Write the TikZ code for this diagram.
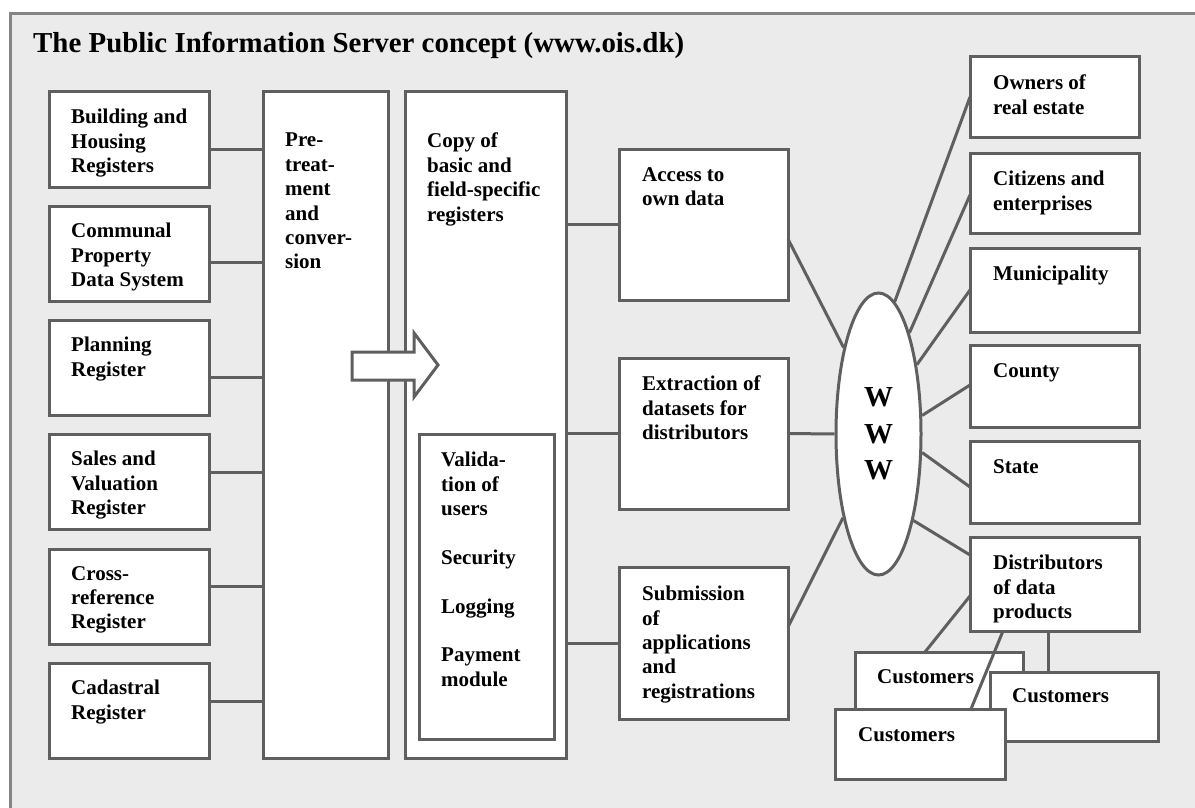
\documentclass[tikz,border=0pt]{standalone}
\usepackage{fontspec}
\setmainfont{Liberation Serif}
\usetikzlibrary{shapes.geometric}
\definecolor{edgegray}{HTML}{5F5F5F}
\definecolor{framegray}{HTML}{858585}
\definecolor{bggray}{HTML}{EBEBEB}
\begin{document}
\begin{tikzpicture}[x=1pt,y=-1pt,
  box/.style={draw=edgegray, line width=3pt, fill=white, rectangle, inner sep=0pt, outer sep=0pt, anchor=north west},
  lbl/.style={anchor=north west, inner sep=0pt, align=left, font=\bfseries\fontsize{21}{24.4}\selectfont},
  conn/.style={draw=edgegray, line width=3pt}]
\useasboundingbox (0,0) rectangle (1195,808);
\clip (0,0) rectangle (1195,808);
\fill[white] (0,0) rectangle (1195,808);
\draw[draw=framegray, fill=bggray, line width=3pt] (10,14) rectangle (1230,840);

% title
\node[anchor=base west, inner sep=0pt, font=\bfseries\fontsize{28.9}{34}\selectfont] (title) at (33,53) {The Public Information Server concept (www.ois.dk)};

% left register boxes
\node[box, minimum width=160pt, minimum height=95pt] (b1) at (49,92) {};
\node[box, minimum width=160pt, minimum height=95pt] (b2) at (49,206) {};
\node[box, minimum width=160pt, minimum height=95pt] (b3) at (49,320) {};
\node[box, minimum width=160pt, minimum height=95pt] (b4) at (49,434) {};
\node[box, minimum width=160pt, minimum height=95pt] (b5) at (49,549) {};
\node[box, minimum width=160pt, minimum height=95pt] (b6) at (49,663) {};
\node[lbl] (t1) at ([xshift=22pt,yshift=-17pt]b1.north west) {Building and\\Housing\\Registers};
\node[lbl] (t2) at ([xshift=22pt,yshift=-17pt]b2.north west) {Communal\\Property\\Data System};
\node[lbl] (t3) at ([xshift=22pt,yshift=-17pt]b3.north west) {Planning\\Register};
\node[lbl] (t4) at ([xshift=22pt,yshift=-17pt]b4.north west) {Sales and\\Valuation\\Register};
\node[lbl] (t5) at ([xshift=22pt,yshift=-17pt]b5.north west) {Cross-\\reference\\Register};
\node[lbl] (t6) at ([xshift=22pt,yshift=-17pt]b6.north west) {Cadastral\\Register};

% pre-treatment and copy columns
\node[box, minimum width=125pt, minimum height=666pt] (pre) at (263,92) {};
\node[lbl] (tpre) at ([xshift=22pt,yshift=-41pt]pre.north west) {Pre-\\treat-\\ment\\and\\conver-\\sion};
\node[box, minimum width=161pt, minimum height=666pt] (copy) at (405,92) {};
\node[lbl] (tcopy) at ([xshift=22pt,yshift=-41pt]copy.north west) {Copy of\\basic and\\field-specific\\registers};
\node[box, minimum width=135pt, minimum height=305pt] (inner) at (419,434) {};
\node[lbl] (tinner) at ([xshift=22pt,yshift=-18pt]inner.north west) {Valida-\\tion of\\users\\[24.4pt]Security\\[24.4pt]Logging\\[24.4pt]Payment\\module};

% middle boxes
\node[box, minimum width=169pt, minimum height=151pt] (acc) at (619,149) {};
\node[lbl] (tacc) at ([xshift=23pt,yshift=-18pt]acc.north west) {Access to\\own data};
\node[box, minimum width=169pt, minimum height=151pt] (ext) at (619,358) {};
\node[lbl] (text) at ([xshift=23pt,yshift=-18pt]ext.north west) {Extraction of\\datasets for\\distributors};
\node[box, minimum width=169pt, minimum height=152pt] (sub) at (619,567) {};
\node[lbl] (tsub) at ([xshift=23pt,yshift=-19pt]sub.north west) {Submission\\of\\applications\\and\\registrations};

% WWW ellipse
\node[ellipse, draw=edgegray, line width=3pt, fill=white, minimum width=85pt, minimum height=282pt, inner sep=0pt, align=center, font=\bfseries\fontsize{29}{36.5}\selectfont] (www) at (878.5,434) {W\\W\\W};

% right boxes
\node[box, minimum width=169pt, minimum height=80pt] (own) at (970,57) {};
\node[lbl] (town) at ([xshift=23pt,yshift=-18pt]own.north west) {Owners of\\real estate};
\node[box, minimum width=169pt, minimum height=80pt] (cit) at (970,153) {};
\node[lbl] (tcit) at ([xshift=23pt,yshift=-18pt]cit.north west) {Citizens and\\enterprises};
\node[box, minimum width=169pt, minimum height=84pt] (mun) at (970,248) {};
\node[lbl] (tmun) at ([xshift=23pt,yshift=-18pt]mun.north west) {Municipality};
\node[box, minimum width=169pt, minimum height=82pt] (cty) at (970,345) {};
\node[lbl] (tcty) at ([xshift=23pt,yshift=-18pt]cty.north west) {County};
\node[box, minimum width=169pt, minimum height=82pt] (sta) at (970,441) {};
\node[lbl] (tsta) at ([xshift=23pt,yshift=-18pt]sta.north west) {State};
\node[box, minimum width=169pt, minimum height=94pt] (dis) at (970,537) {};
\node[lbl] (tdis) at ([xshift=23pt,yshift=-18pt]dis.north west) {Distributors\\of data\\products};

% customers
\node[box, minimum width=168pt, minimum height=70pt] (c1) at (855,652) {};
\node[lbl] (tc1) at ([xshift=22pt,yshift=-17pt]c1.north west) {Customers};
\node[box, minimum width=168pt, minimum height=69pt] (c2) at (990,672) {};
\node[lbl] (tc2) at ([xshift=22pt,yshift=-16pt]c2.north west) {Customers};
\node[box, minimum width=170pt, minimum height=70pt] (c3) at (835,709) {};
\node[lbl] (tc3) at ([xshift=23pt,yshift=-18pt]c3.north west) {Customers};

% connectors: registers to pre-treatment
\path ([yshift=-57pt]b1.north east) coordinate (p1)
      ([yshift=-56pt]b2.north east) coordinate (p2)
      ([yshift=-57pt]b3.north east) coordinate (p3)
      ([yshift=-38pt]b4.north east) coordinate (p4)
      ([yshift=-37pt]b5.north east) coordinate (p5)
      ([yshift=-38pt]b6.north east) coordinate (p6);
\foreach \p in {p1,p2,p3,p4,p5,p6} \draw[conn] (\p) -- (\p -| pre.west);

% copy to middle boxes
\draw[conn] (copy.east |- acc.west) -- (acc.west);
\draw[conn] (copy.east |- ext.west) -- (ext.west);
\draw[conn] (copy.east |- sub.west) -- (sub.west);

% middle boxes to WWW
\draw[conn] ([yshift=-90pt]acc.north east) -- (www.112);
\draw[conn] (ext.east) -- (www.west);
\draw[conn] ([yshift=-60pt]sub.north east) -- (www.247);

% WWW to right boxes
\draw[conn] (www.83) -- (own.west);
\draw[conn] (www.73) -- ([yshift=-42pt]cit.north west);
\draw[conn] (www.61) -- (mun.west);
\draw[conn] (www.23) -- ([yshift=-40pt]cty.north west);
\draw[conn] (www.337) -- ([yshift=-46pt]sta.north west);
\draw[conn] (www.292) -- ([yshift=-18pt]dis.north west);

% distributors to customers
\draw[conn] ([yshift=-59pt]dis.north west) -- ([xshift=70pt]c1.north west);
\draw[conn] ([xshift=33pt]dis.south west) -- ([xshift=136pt]c3.north west);
\draw[conn] ([xshift=78pt]dis.south west) -- ([xshift=58pt]c2.north west);

% block arrow
\draw[draw=edgegray, line width=3pt, fill=white, line join=miter]
  (352,352) -- (414,352) -- (414,333) -- (438,365) -- (414,397) -- (414,380) -- (352,380) -- cycle;
\end{tikzpicture}
\end{document}
